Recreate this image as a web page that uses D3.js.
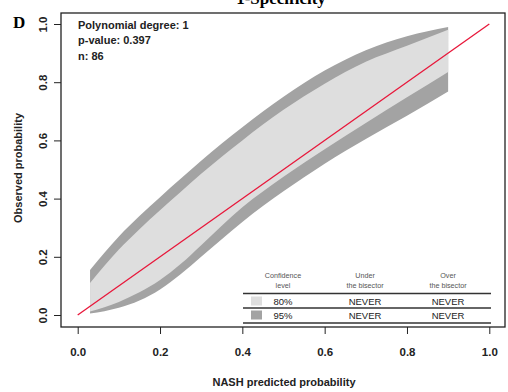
<!DOCTYPE html>
<html>
<head>
<meta charset="utf-8">
<script src="https://cdn.jsdelivr.net/npm/d3@7"></script>
<style>
  body { margin: 0; background: #fff; }
  svg { display: block; font-family: "Liberation Sans", Arial, sans-serif; }
</style>
</head>
<body>
<script>
// calibration band
var bandX   = [0.03, 0.1, 0.15, 0.2, 0.25, 0.3, 0.4, 0.5, 0.6, 0.7, 0.8, 0.9];
var upper95 = [0.155, 0.27, 0.34, 0.405, 0.468, 0.53, 0.645, 0.75, 0.84, 0.91, 0.958, 0.99];
var upper80 = [0.11, 0.225, 0.295, 0.36, 0.423, 0.485, 0.6, 0.705, 0.795, 0.87, 0.925, 0.98];
var lower80 = [0.012, 0.045, 0.078, 0.12, 0.175, 0.24, 0.37, 0.475, 0.57, 0.66, 0.748, 0.835];
var lower95 = [0.005, 0.025, 0.05, 0.088, 0.14, 0.2, 0.32, 0.425, 0.52, 0.605, 0.685, 0.768];

var ticks = [0, 0.2, 0.4, 0.6, 0.8, 1.0];
var infoLines = ["Polynomial degree: 1", "p-value: 0.397", "n: 86"];

var levels = ["80%", "95%"];
var underBisector = ["NEVER", "NEVER"];
var overBisector = ["NEVER", "NEVER"];

var W = 508, H = 392;
var box = { left: 61, top: 13, right: 505, bottom: 327 };

var svg = d3.select("body").append("svg").attr("width", W).attr("height", H);

var x = d3.scaleLinear().domain([0, 1]).range([77.7, 489.3]);
var y = d3.scaleLinear().domain([0, 1]).range([315, 24]);

var band = bandX.map(function(v, i) {
  return { x: v, u95: upper95[i], u80: upper80[i], l80: lower80[i], l95: lower95[i] };
});

// outer 95% band first, then the 80% band on top of it
var area95 = d3.area()
  .x(function(d) { return x(d.x); })
  .y0(function(d) { return y(d.l95); })
  .y1(function(d) { return y(d.u95); })
  .curve(d3.curveMonotoneX);
var area80 = d3.area()
  .x(function(d) { return x(d.x); })
  .y0(function(d) { return y(d.l80); })
  .y1(function(d) { return y(d.u80); })
  .curve(d3.curveMonotoneX);

svg.append("path").datum(band).attr("d", area95).attr("fill", "#a3a3a3");
svg.append("path").datum(band).attr("d", area80).attr("fill", "#dedede");

// bisector
svg.append("line")
  .attr("x1", x(0)).attr("y1", y(0))
  .attr("x2", x(1)).attr("y2", y(1))
  .attr("stroke", "#e8173a")
  .attr("stroke-width", 1.3);

// plot frame
svg.append("rect")
  .attr("x", box.left).attr("y", box.top)
  .attr("width", box.right - box.left).attr("height", box.bottom - box.top)
  .attr("fill", "none").attr("stroke", "#222").attr("stroke-width", 1.3);

// axes
var xAxis = svg.append("g")
  .attr("transform", "translate(0," + box.bottom + ")")
  .call(d3.axisBottom(x).tickValues(ticks).tickSize(7).tickPadding(14).tickFormat(d3.format(".1f")));
xAxis.select(".domain").remove();
xAxis.selectAll("line").attr("stroke", "#222");
xAxis.selectAll("text").attr("font-size", 11.5).attr("font-weight", "bold").attr("fill", "#222")
  .attr("font-family", "Liberation Sans, Arial, sans-serif");

var yAxis = svg.append("g")
  .attr("transform", "translate(" + box.left + ",0)")
  .call(d3.axisLeft(y).tickValues(ticks).tickSize(7).tickFormat(d3.format(".1f")));
yAxis.select(".domain").remove();
yAxis.selectAll("line").attr("stroke", "#222");
yAxis.selectAll("text")
  .attr("font-size", 11.5).attr("font-weight", "bold").attr("fill", "#222")
  .attr("font-family", "Liberation Sans, Arial, sans-serif")
  .attr("text-anchor", "middle")
  .attr("x", 0).attr("dy", 0)
  .attr("transform", "translate(-14,0) rotate(-90)");

// axis titles
svg.append("text")
  .attr("x", 284).attr("y", 386)
  .attr("text-anchor", "middle")
  .attr("font-size", 11).attr("font-weight", "bold").attr("fill", "#222")
  .text("NASH predicted probability");

svg.append("text")
  .attr("transform", "translate(22,168) rotate(-90)")
  .attr("text-anchor", "middle")
  .attr("font-size", 11).attr("font-weight", "bold").attr("fill", "#222")
  .text("Observed probability");

// panel title (cut off at the top edge in the original) and panel letter
svg.append("text")
  .attr("x", 281).attr("y", 4)
  .attr("text-anchor", "middle")
  .attr("font-family", "Liberation Serif, Times New Roman, serif")
  .attr("font-size", 17).attr("font-weight", "bold")
  .text("1-Specificity");

svg.append("text")
  .attr("x", 13).attr("y", 28)
  .attr("font-family", "Liberation Serif, Times New Roman, serif")
  .attr("font-size", 17).attr("font-weight", "bold")
  .text("D");

// info text
svg.append("g").selectAll("text")
  .data(infoLines)
  .enter()
  .append("text")
  .attr("x", 78)
  .attr("y", function(d, i) { return 29 + i * 15.3; })
  .attr("font-size", 11).attr("font-weight", "bold").attr("fill", "#222")
  .text(function(d) { return d; });

// legend table
var leg = svg.append("g");
var colX = [283, 365, 448];
var headers = [["Confidence", "level"], ["Under", "the bisector"], ["Over", "the bisector"]];
headers.forEach(function(h, c) {
  h.forEach(function(t, k) {
    leg.append("text")
      .attr("x", colX[c]).attr("y", 278 + k * 10)
      .attr("text-anchor", "middle")
      .attr("font-size", 7.2).attr("fill", "#555")
      .text(t);
  });
});
[293.5, 308, 323].forEach(function(ly) {
  leg.append("line")
    .attr("x1", 243).attr("x2", 491)
    .attr("y1", ly).attr("y2", ly)
    .attr("stroke", "#333").attr("stroke-width", 1.3);
});
var swatch = ["#dedede", "#a3a3a3"];
levels.forEach(function(lv, r) {
  var cy = 301 + r * 14;
  leg.append("rect")
    .attr("x", 251).attr("y", cy - 4.5)
    .attr("width", 11).attr("height", 9)
    .attr("fill", swatch[r]);
  [lv, underBisector[r], overBisector[r]].forEach(function(t, c) {
    leg.append("text")
      .attr("x", colX[c]).attr("y", cy + 3.5)
      .attr("text-anchor", "middle")
      .attr("font-size", 9.5).attr("fill", "#222")
      .text(t);
  });
});
</script>
</body>
</html>
